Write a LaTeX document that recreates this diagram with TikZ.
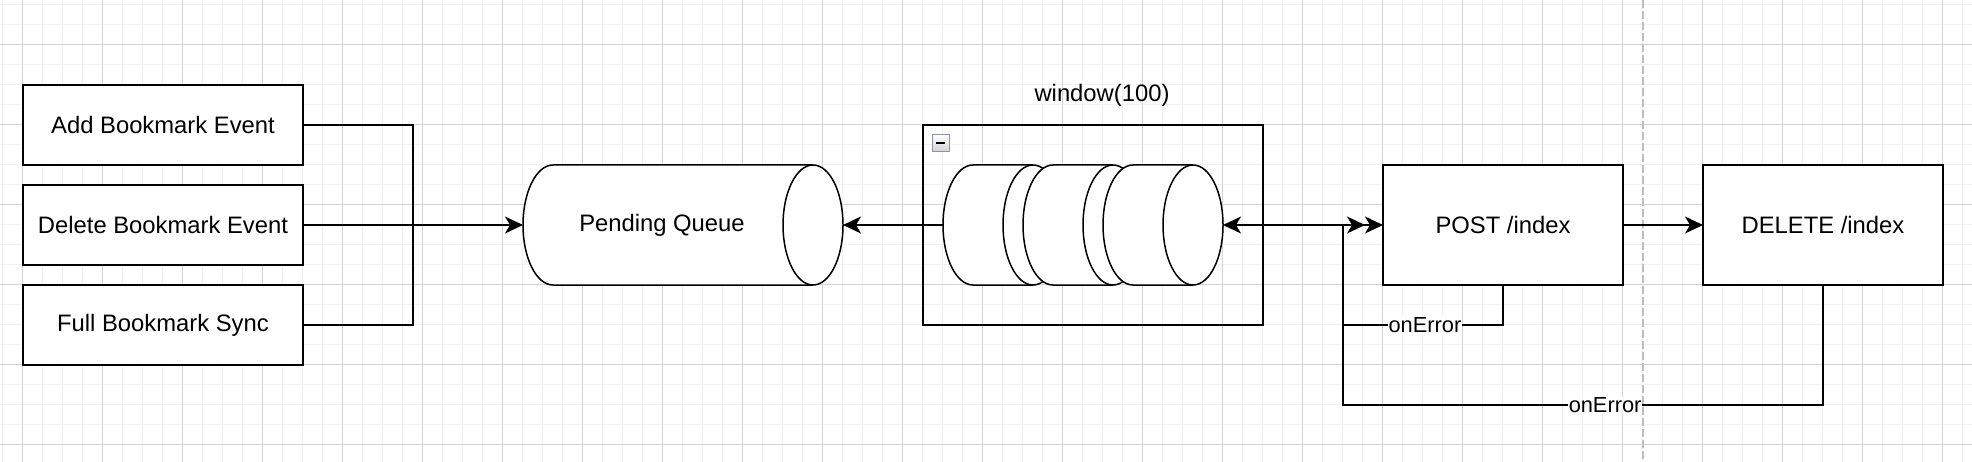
\documentclass[tikz,border=0pt]{standalone}
\usepackage{fontspec}
\setmainfont{Liberation Sans}
\usetikzlibrary{positioning,arrows.meta}

\definecolor{gridminor}{HTML}{F1F1F1}
\definecolor{gridmajor}{HTML}{D3D3D3}
\definecolor{dividergray}{HTML}{BDBDBD}
\definecolor{toggleedge}{HTML}{8E94A6}

% horizontal cylinder: centre x, centre y, length (caps 30 wide, 120 high)
\newcommand\drawcyl[3]{%
  \filldraw[fill=white] (#1-#3/2+30,#2-60) -- (#1+#3/2-30,#2-60)
    arc[start angle=90, end angle=-90, x radius=30pt, y radius=60pt]
    -- (#1-#3/2+30,#2+60)
    arc[start angle=270, end angle=90, x radius=30pt, y radius=60pt] -- cycle;
  \draw (#1+#3/2-30,#2-60) arc[start angle=90, end angle=270, x radius=30pt, y radius=60pt];
}

\tikzset{
  event/.style={draw, fill=white, line width=1.5pt, minimum width=280pt, minimum height=80pt, inner sep=0pt, outer sep=0pt, font=\fontsize{23.8}{28}\selectfont},
  api/.style={event, minimum width=240pt, minimum height=120pt},
  cylnode/.style={minimum width=#1, minimum height=120pt, inner sep=0pt, outer sep=0pt},
  qtext/.style={xshift=-21pt, font=\fontsize{23.8}{28}\selectfont},
  winbox/.style={draw, line width=1.5pt, minimum width=340pt, minimum height=200pt, inner sep=0pt},
  toggle/.style={draw=toggleedge, line width=1.3pt, top color=white, bottom color=gray!35, minimum size=17pt, inner sep=0pt},
  onerr/.style={fill=white, inner sep=0.5pt, font=\fontsize{21.8}{26}\selectfont},
  minorgrid/.style={draw=gridminor, line width=1.2pt},
  majorgrid/.style={draw=gridmajor, line width=1pt},
  divider/.style={draw=dividergray, line width=1.8pt, dash pattern=on 8pt off 3pt}
}

\begin{document}
\begin{tikzpicture}[x=1pt, y=-1pt, line width=1.5pt, >={Stealth[length=18pt,width=17pt,inset=5pt]}]
  \useasboundingbox[fill=white] (0,0) rectangle (1972,462);
  % background grid
  \foreach \x in {2.3,22.3,...,1972} \draw[minorgrid] (\x,0) -- (\x,462);
  \foreach \y in {4.3,24.3,...,462} \draw[minorgrid] (0,\y) -- (1972,\y);
  \foreach \x in {22.3,102.3,...,1972} \draw[majorgrid] (\x,0) -- (\x,462);
  \foreach \y in {44.3,124.3,...,462} \draw[majorgrid] (0,\y) -- (1972,\y);
  \draw[divider] (1643,0) -- (1643,462);

  \node[event] (add) at (163,125) {Add Bookmark Event};
  \node[event] (del) [below=20pt of add] {Delete Bookmark Event};
  \node[event] (full) [below=20pt of del] {Full Bookmark Sync};

  \drawcyl{683}{225}{320}
  \node[cylnode=320pt, label={[qtext]center:Pending Queue}] (queue) at (683,225) {};

  \node[winbox] (window) at (1093,225) {};
  \node[font=\fontsize{23.8}{28}\selectfont] (wtitle) at (1102,95) {window(100)};
  \node[toggle] (tgl) at (940.8,143) {};
  \draw[line width=2pt] ([xshift=-4.5pt]tgl.center) -- ([xshift=4.5pt]tgl.center);
  \foreach \i/\x in {1/1003,2/1083,3/1163} {
    \drawcyl{\x}{225}{120}
    \node[cylnode=120pt] (s\i) at (\x,225) {};
  }

  \node[api] (post) at (1503,225) {POST /index};
  \node[api] (delete) [right=80pt of post] {DELETE /index};

  \coordinate (inbus) at (413,225);
  \coordinate (errtop) at (1343,225);
  \coordinate (err1) at (1343,325);
  \coordinate (err2) at (1343,405);

  \draw (add) -| (inbus);
  \draw (full) -| (inbus);
  \draw[->] (del) -- (queue);
  \draw[->] (s1) -- (queue);
  \draw[<->>] (s3) -- (post);
  \draw[->] (post) -- (delete);
  \draw (post) |- node[onerr, pos=0.744] {onError} (err1) -- (errtop);
  \draw (delete) |- node[onerr, pos=0.727] {onError} (err2) -- (err1);
\end{tikzpicture}
\end{document}
